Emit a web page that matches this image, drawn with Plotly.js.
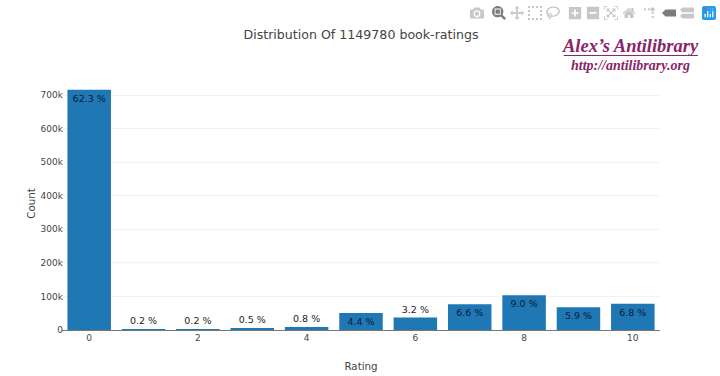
<!DOCTYPE html>
<html>
<head>
<meta charset="utf-8">
<script src="https://cdn.plot.ly/plotly-3.0.1.min.js"></script>
<style>
html,body{margin:0;padding:0;background:#fff}
#c{width:720px;height:376px}
.modebar-btn{font-size:14px !important;padding:3px 2px !important}
.modebar-group{padding-left:4px !important}
.modebar-btn--logo{padding:3px 2px !important}
.modebar-btn--logo svg rect:first-child{fill:#1f9bef !important}
</style>
</head>
<body>
<div id="c"></div>
<script>
var ratings = [0,1,2,3,4,5,6,7,8,9,10];
var counts = [716000,1800,2800,6000,8900,51000,36900,76500,103700,67500,78600];
var labels = ['62.3 %','0.2 %','0.2 %','0.5 %','0.8 %','4.4 %','3.2 %','6.6 %','9.0 %','5.9 %','6.8 %'];
var chartTitle = 'Distribution Of 1149780 book-ratings';
var FONT = '"DejaVu Sans", Verdana, sans-serif';

Plotly.newPlot('c', [{
  type: 'bar',
  x: ratings,
  y: counts,
  text: labels,
  textposition: 'auto',
  insidetextanchor: 'end',
  textangle: 0,
  constraintext: 'none',
  cliponaxis: false,
  textfont: {family: FONT, size: 9.5, color: '#111'},
  insidetextfont: {family: FONT, size: 9.5, color: '#0a1a3a'},
  outsidetextfont: {family: FONT, size: 9.5, color: '#222'},
  marker: {color: '#1f77b4'}
}], {
  width: 720,
  height: 376,
  paper_bgcolor: '#fff',
  plot_bgcolor: '#fff',
  bargap: 0.2,
  showlegend: false,
  dragmode: 'zoom',
  hovermode: 'closest',
  font: {family: FONT, color: '#444', size: 9},
  margin: {l: 62, r: 60, t: 77, b: 46, pad: 0},
  modebar: {add: ['togglespikelines','hoverclosest','hovercompare']},
  title: {text: chartTitle, x: 0.5, xref: 'paper', y: 0.907, yanchor: 'middle', font: {family: FONT, size: 12.6, color: '#444'}},
  xaxis: {
    range: [-0.5, 10.5], dtick: 2, tick0: 0,
    showgrid: false, zeroline: false,
    showline: true, linecolor: '#777', linewidth: 1, layer: 'below traces',
    ticks: '', tickfont: {size: 9, color: '#444'}, ticklabelstandoff: -1,
    title: {text: 'Rating', standoff: 20, font: {size: 10.3, color: '#444'}}
  },
  yaxis: {
    range: [0, 754000], dtick: 100000,
    tickformat: '~s',
    gridcolor: '#f2f2f2', gridwidth: 1,
    zeroline: false, showline: false,
    ticks: '', ticklabelstandoff: -2,
    tickfont: {size: 9, color: '#444'},
    title: {text: 'Count', standoff: 3, font: {size: 10.3, color: '#444'}}
  },
  shapes: [{
    type: 'line', xref: 'paper', yref: 'paper',
    x0: 0.839, x1: 1.0635, y0: 1.085, y1: 1.085,
    line: {color: '#8a2468', width: 1}
  }],
  annotations: [{
    text: '<b><i>Alex’s Antilibrary</i></b>', xref: 'paper', yref: 'paper',
    x: 0.951, y: 1.122, xanchor: 'center', yanchor: 'middle', showarrow: false,
    font: {family: '"Liberation Serif", "Times New Roman", serif', size: 18.5, color: '#8a2468'}
  }, {
    text: '<b><i>http://antilibrary.org</i></b>', xref: 'paper', yref: 'paper',
    x: 0.951, y: 1.047, xanchor: 'center', yanchor: 'middle', showarrow: false,
    font: {family: '"Liberation Serif", "Times New Roman", serif', size: 14, color: '#8a2468'}
  }]
}, {
  displayModeBar: true,
  displaylogo: true
});
</script>
</body>
</html>
